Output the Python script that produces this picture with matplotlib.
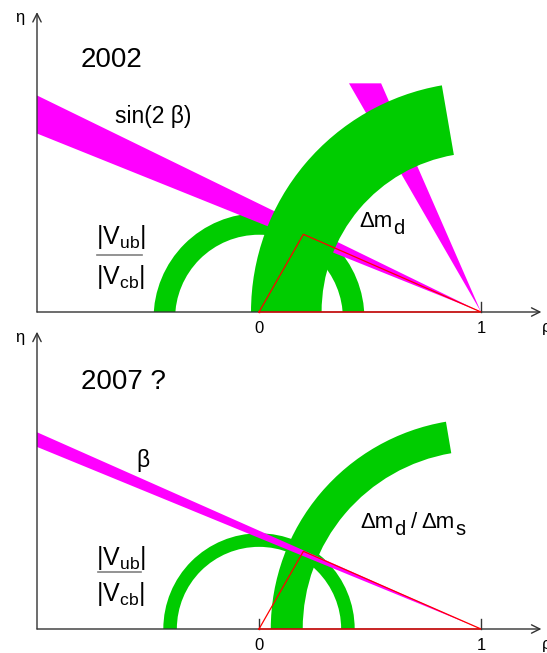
import numpy as np
import matplotlib
matplotlib.use("Agg")
import matplotlib.pyplot as plt
from matplotlib import transforms as mtransforms
from matplotlib.patches import Wedge, Polygon, Rectangle, FancyArrowPatch

plt.rcParams['font.family'] = ['Liberation Sans', 'DejaVu Sans']
plt.rcParams['mathtext.fontset'] = 'custom'
plt.rcParams['mathtext.rm'] = 'Liberation Sans'
plt.rcParams['mathtext.it'] = 'Liberation Sans:italic'
plt.rcParams['mathtext.bf'] = 'Liberation Sans:bold'

# ---------------- data ----------------
panel_titles = ["2002", "2007 ?"]
tick_values = [0, 1]
tick_labels = ["0", "1"]
apex = (0.20, 0.35)                      # (rho, eta) of triangle apex

# 2002 constraints
vub_2002_radii = [0.378, 0.475]          # inner, outer
vub_2002_center_eta = -0.03
dmd_2002_radii = [0.718, 1.036]          # inner, outer, centered at (1, 0)
dmd_2002_end_angle = 99.8                # degrees
sin2b_low_angles = [21.9, 26.0]          # degrees, band from (1,0)
sin2b_high_angles = [60.0, 66.4]
sin2b_high_cut = 1.03                    # eta where the steep band is cut

# 2007 constraints
vub_2007_radii = [0.370, 0.431]
dms_2007_radii = [0.803, 0.947]
dms_2007_end_angle = 99.6
beta_2007_angles = [22.3, 23.9]

# ---------------- style ----------------
GREEN = '#00CC00'
MAGENTA = '#FF00FF'
RED = '#FF0000'
AXC = '#333333'

W, H = 547, 653
PX = 222.0
RHO0_PX = 259

fig = plt.figure(figsize=(W / 100, H / 100), dpi=100)
renderer = fig.canvas.get_renderer()


def make_axes(top_px, bottom_px, eta0_px):
    ax = fig.add_axes([0, (H - bottom_px) / H, 1, (bottom_px - top_px) / H])
    ax.set_xlim(-RHO0_PX / PX, (W - RHO0_PX) / PX)
    ax.set_ylim(-(bottom_px - eta0_px) / PX, (eta0_px - top_px) / PX)
    ax.axis('off')
    ax.patch.set_alpha(0)
    return ax


def draw_frame(ax, eta_tip, eta_lab):
    for (p0, p1) in [((-1.0, 0), (1.272, 0)), ((-1.0, 0), (-1.0, eta_tip))]:
        ar = FancyArrowPatch(p0, p1, arrowstyle='->,head_length=0.6,head_width=0.3',
                             mutation_scale=10, color=AXC, lw=1.0,
                             shrinkA=0, shrinkB=0, zorder=6)
        ax.add_patch(ar)
    for t, lab in zip(tick_values, tick_labels):
        ax.plot([t, t], [0, 0.047], color=AXC, lw=1.0, zorder=1)
        ax.text(t, -0.096, lab, ha='center', va='baseline', fontsize=12)
    ax.text(-1.079, eta_lab, 'η', ha='center', va='baseline', fontsize=12)
    ax.text(1.273, -0.088, 'ρ', ha='left', va='baseline', fontsize=12)


def chain_text(ax, x, y, parts):
    """parts: (text, fontsize, drop_px, gap_px) laid out left to right."""
    dx = 0.0
    for s, fs, drop, gap in parts:
        dx += gap
        tr = mtransforms.offset_copy(ax.transData, fig=fig, x=dx, y=-drop, units='dots')
        t = ax.text(x, y, s, fontsize=fs, transform=tr, ha='left', va='baseline', zorder=8)
        dx += t.get_window_extent(renderer=renderer).width


def ring(ax, center, radii, t1, t2, z):
    w = Wedge(center, radii[1], t1, t2, width=radii[1] - radii[0],
              facecolor=GREEN, edgecolor='none', zorder=z)
    ax.add_patch(w)
    clip = Rectangle((-2, 0), 5, 5, transform=ax.transData)
    w.set_clip_path(clip)
    return w


def band_to_axis(ax, angles, z):
    pts = [(1, 0)] + [(-1.0, 2.0 * np.tan(np.radians(a))) for a in angles]
    ax.add_patch(Polygon(pts, closed=True, facecolor=MAGENTA, edgecolor='none', zorder=z))


def band_to_height(ax, angles, h, z):
    pts = [(1, 0)] + [(1 - h / np.tan(np.radians(a)), h) for a in angles]
    ax.add_patch(Polygon(pts, closed=True, facecolor=MAGENTA, edgecolor='none', zorder=z))


def triangle(ax):
    ax.plot([0, apex[0], 1, 0], [0, apex[1], 0, 0], color=RED, lw=0.9, zorder=7,
            solid_joinstyle='miter')


def fraction(ax, y_top, y_bar, y_bot, bar_x):
    ax.text(-0.732, y_top, r'|V$_\mathrm{ub}$|', ha='left', va='baseline', fontsize=18)
    ax.plot(bar_x, [y_bar, y_bar], color='#808080', lw=1.2)
    ax.text(-0.732, y_bot, r'|V$_\mathrm{cb}$|', ha='left', va='baseline', fontsize=18)


# ---------------- top panel (2002) ----------------
ax1 = make_axes(0, 330, 312)
draw_frame(ax1, 1.351, 1.306)
ring(ax1, (0, vub_2002_center_eta), vub_2002_radii, 0, 180, 2)
band_to_axis(ax1, sin2b_low_angles, 3)
band_to_height(ax1, sin2b_high_angles, sin2b_high_cut, 3)
ring(ax1, (1, 0), dmd_2002_radii, dmd_2002_end_angle, 180, 4)
triangle(ax1)
ax1.text(-0.802, 1.105, panel_titles[0], ha='left', va='baseline', fontsize=20)
ax1.text(-0.649, 0.853, 'sin(2 β)', ha='left', va='baseline', fontsize=16.5)
chain_text(ax1, 0.452, 0.382, [('Δm', 16, 0, 0), ('d', 14.5, 6.5, 1.0)])
fraction(ax1, 0.307, 0.257, 0.124, [-0.729, -0.529])

# ---------------- bottom panel (2007) ----------------
ax2 = make_axes(330, 653, 629)
draw_frame(ax2, 1.339, 1.295)
ring(ax2, (0, 0), vub_2007_radii, 0, 180, 2)
ring(ax2, (1, 0), dms_2007_radii, dms_2007_end_angle, 180, 3)
band_to_axis(ax2, beta_2007_angles, 4)
triangle(ax2)
ax2.text(-0.802, 1.081, panel_titles[1], ha='left', va='baseline', fontsize=20)
ax2.text(-0.554, 0.730, 'β', ha='left', va='baseline', fontsize=16.5)
chain_text(ax2, 0.455, 0.454, [('Δm', 16, 0, 0), ('d', 14.5, 6.7, 1.0),
                               ('/', 16, 0, 5.0), ('Δm', 16, 0, 4.5), ('s', 14.5, 6.7, 1.0)])
fraction(ax2, 0.288, 0.255, 0.124, [-0.727, -0.530])

fig.savefig('out.png', dpi=100)
